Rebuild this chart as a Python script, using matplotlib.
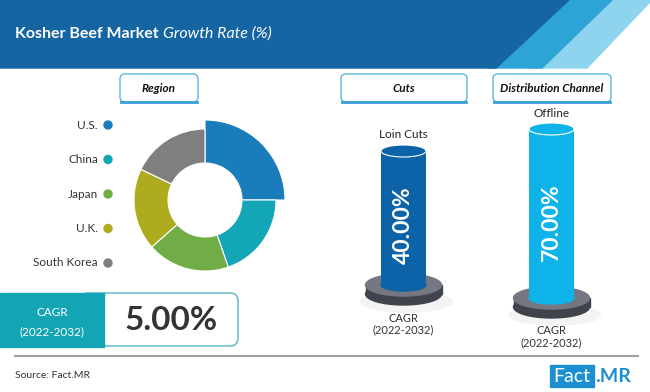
import matplotlib.pyplot as plt
from matplotlib.patches import Polygon, Rectangle, Ellipse, FancyBboxPatch

W, H = 650, 392

regions = ['U.S.', 'China', 'Japan', 'U.K.', 'South Korea']
region_share = [25.0, 19.7, 18.8, 18.6, 17.9]
region_colors = ['#1a7cba', '#13a6b7', '#71ad46', '#aeab1f', '#7f7f7f']

cut_label = 'Loin Cuts'
cut_value = 40.0
channel_label = 'Offline'
channel_value = 70.0
market_cagr = 5.00
period = '(2022-2032)'

plt.rcParams['font.family'] = ['Lato', 'DejaVu Sans']

fig = plt.figure(figsize=(W / 100, H / 100), dpi=100)


def px_axes(x0, y0, x1, y1):
    return fig.add_axes([x0 / W, 1 - y1 / H, (x1 - x0) / W, (y1 - y0) / H])


bg = fig.add_axes([0, 0, 1, 1])
bg.set_xlim(0, W)
bg.set_ylim(H, 0)
bg.axis('off')

# header band
bg.add_patch(Polygon([(600, 0), (650, 0), (650, 2), (587, 68), (528, 68)], color='#8fd4ef'))
bg.add_patch(Polygon([(560, 0), (612, 0), (542, 68), (488, 68)], color='#2ea3d6'))
bg.add_patch(Polygon([(0, 0), (569, 0), (496, 68), (0, 68)], color='#1565a3'))
t1 = bg.text(15, 34, 'Kosher Beef Market', color='white', fontsize=11.5,
             fontweight='bold', va='center', ha='left')
fig.canvas.draw()
r = fig.canvas.get_renderer()
ext = t1.get_window_extent(r)
bg.text(ext.x1 + 4, 34, 'Growth Rate (%)', color='white', fontsize=11.5,
        style='italic', va='center', ha='left')


# section tabs
def tab(x0, x1, label):
    bg.add_patch(FancyBboxPatch((x0, 74), x1 - x0, 28, boxstyle='round,pad=0,rounding_size=5',
                                fc='white', ec='#5bb6df', lw=1.0))
    bg.plot([x0 + 1, x1 - 1], [102, 102], color='#3a9fd4', lw=2)
    bg.text((x0 + x1) / 2, 88, label, fontsize=8.5, fontweight='bold', style='italic',
            ha='center', va='center', color='#111111')


tab(120, 198, 'Region')
tab(341, 467, 'Cuts')
tab(493, 611, 'Distribution Channel')

# donut
cx, cy, R = 205, 200, 90
dax = px_axes(cx - R, cy - R, cx + R, cy + R)
wedges, _ = dax.pie(region_share, colors=region_colors, startangle=90, counterclock=False,
                    radius=71, wedgeprops=dict(width=34, edgecolor='white', linewidth=0.8))
wedges[0].set_radius(80)
wedges[0].set_width(43)
dax.set_xlim(-R, R)
dax.set_ylim(-R, R)
dax.set_aspect('equal')
dax.axis('off')

# legend
for i, (name, col) in enumerate(zip(regions, region_colors)):
    y = 125 + i * 34.5
    bg.text(98, y, name, fontsize=8.5, ha='right', va='center', color='#333333')
    bg.add_patch(Ellipse((108, y), 8, 8, color=col))


# cylinders
def cylinder(cx, x_half, base_y, top_y, value, color, label, vlabel):
    # base disk
    bg.add_patch(Ellipse((cx + 3, base_y + 17), 92, 20, color='#f3f3f3', zorder=1))
    bg.add_patch(Rectangle((cx - 38, base_y), 76, 9, color='#41434c', zorder=2))
    bg.add_patch(Ellipse((cx, base_y + 9), 76, 22, color='#41434c', zorder=2))
    bg.add_patch(Ellipse((cx, base_y), 76, 22, color='#757883', zorder=3))
    ax = px_axes(cx - x_half, top_y, cx + x_half, base_y)
    ax.set_xlim(-0.5, 0.5)
    ax.set_ylim(0, value)
    ax.axis('off')
    ax.patch.set_alpha(0)
    ax.bar([0], [value], width=1, color=color, clip_on=False)
    eh = 12 * value / (base_y - top_y)
    ax.add_patch(Ellipse((0, 0), 1, eh, color=color, clip_on=False))
    ax.add_patch(Ellipse((0, value), 1, eh, fc=color, ec='white', lw=0.8, clip_on=False))
    ax.text(0, value * 0.45, vlabel, rotation=90, color='white', fontsize=16.5,
            fontweight='bold', ha='center', va='center')
    bg.text(cx, top_y - 16, label, fontsize=8.5, ha='center', va='center', color='#222222')
    bg.text(cx, base_y + 33, 'CAGR', fontsize=8, ha='center', va='center', color='#333333')
    bg.text(cx, base_y + 45, period, fontsize=8, ha='center', va='center', color='#333333')


cylinder(403.5, 22.5, 285, 151, cut_value, '#0c63a7', cut_label, f'{cut_value:.2f}%')
cylinder(551.5, 22.5, 298, 129, channel_value, '#0eb4e9', channel_label, f'{channel_value:.2f}%')

# CAGR box
bg.add_patch(FancyBboxPatch((80, 293), 158, 53, boxstyle='round,pad=0,rounding_size=8',
                            fc='white', ec='#6cc1cc', lw=1.2))
bg.add_patch(Rectangle((0, 293), 104, 53.5, color='#14a5b5'))
bg.text(52, 312, 'CAGR', color='white', fontsize=8.5, ha='center', va='center')
bg.text(52, 332, period, color='white', fontsize=8.5, ha='center', va='center')
bg.text(171, 321, f'{market_cagr:.2f}%', color='#333333', fontsize=24, fontweight='bold',
        ha='center', va='center')

# footer
bg.plot([15, 638], [356, 356], color='#a0a0a0', lw=1.5)
bg.text(15, 376, 'Source: Fact.MR', fontsize=7.5, ha='left', va='center', color='#333333')
bg.add_patch(Rectangle((550, 365), 44, 22, color='#1b8fd0'))
bg.text(572, 376, 'Fact', color='white', fontsize=14, ha='center', va='center')
bg.text(595, 376, '.MR', color='#1b8fd0', fontsize=14, fontweight='bold', ha='left', va='center')

fig.savefig('out.png', dpi=100)
